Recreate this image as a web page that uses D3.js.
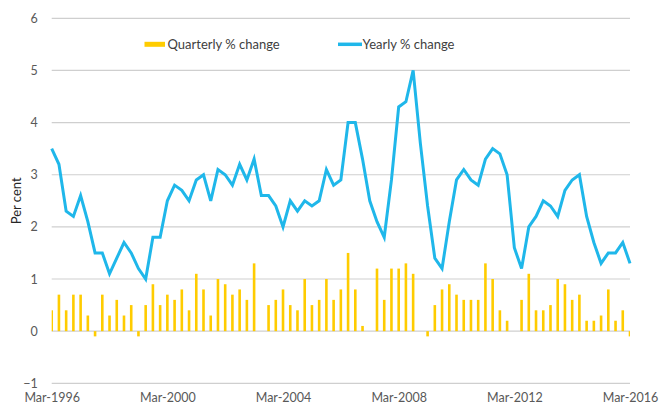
<!DOCTYPE html>
<html>
<head>
<meta charset="utf-8">
<script src="https://cdn.jsdelivr.net/npm/d3@7"></script>
<style>
  body { margin: 0; background: #fff; }
  text { font-family: Lato, "Open Sans", sans-serif; }
</style>
</head>
<body>
<div id="chart"></div>
<script>
var width = 662, height = 405;
var margin = {top: 18.3, right: 32, bottom: 21.7, left: 51.7};

// quarter labels, Mar-1996 .. Mar-2016
var months = ["Mar", "Jun", "Sep", "Dec"];
var quarters = [];
for (var yr = 1996; yr <= 2016; yr++) {
  months.forEach(function(m) { quarters.push(m + "-" + yr); });
}
quarters = quarters.slice(0, 81);

var xTickLabels = ["Mar-1996", "Mar-2000", "Mar-2004", "Mar-2008", "Mar-2012", "Mar-2016"];
var yTicks = [-1, 0, 1, 2, 3, 4, 5, 6];

var quarterly = [0.4, 0.7, 0.4, 0.7, 0.7, 0.3, -0.1, 0.7, 0.3, 0.6,
                 0.3, 0.5, -0.1, 0.5, 0.9, 0.5, 0.7, 0.6, 0.8, 0.4,
                 1.1, 0.8, 0.3, 1.0, 0.9, 0.7, 0.8, 0.6, 1.3, 0,
                 0.5, 0.6, 0.8, 0.5, 0.4, 1.0, 0.5, 0.6, 1.0, 0.6,
                 0.8, 1.5, 0.8, 0.1, 0, 1.2, 0.6, 1.2, 1.2, 1.3,
                 1.1, 0, -0.1, 0.5, 0.8, 0.9, 0.7, 0.6, 0.6, 0.6,
                 1.3, 1.0, 0.4, 0.2, 0, 0.6, 1.1, 0.4, 0.4, 0.5,
                 1.0, 0.9, 0.6, 0.7, 0.2, 0.2, 0.3, 0.8, 0.2, 0.4, -0.1];

var yearly = [3.5, 3.2, 2.3, 2.2, 2.6, 2.1, 1.5, 1.5, 1.1, 1.4,
              1.7, 1.5, 1.2, 1.0, 1.8, 1.8, 2.5, 2.8, 2.7, 2.5,
              2.9, 3.0, 2.5, 3.1, 3.0, 2.8, 3.2, 2.9, 3.3, 2.6,
              2.6, 2.4, 2.0, 2.5, 2.3, 2.5, 2.4, 2.5, 3.1, 2.8,
              2.9, 4.0, 4.0, 3.3, 2.5, 2.1, 1.8, 2.9, 4.3, 4.4,
              5.0, 3.6, 2.4, 1.4, 1.2, 2.1, 2.9, 3.1, 2.9, 2.8,
              3.3, 3.5, 3.4, 3.0, 1.6, 1.2, 2.0, 2.2, 2.5, 2.4,
              2.2, 2.7, 2.9, 3.0, 2.2, 1.7, 1.3, 1.5, 1.5, 1.7, 1.3];

var yellow = "#ffcc00", blue = "#1fb7ea";

var svg = d3.select("#chart").append("svg")
    .attr("width", width)
    .attr("height", height);

var x = d3.scalePoint()
    .domain(quarters)
    .range([margin.left, width - margin.right]);

var y = d3.scaleLinear()
    .domain([-1, 6])
    .range([height - margin.bottom, margin.top]);

// gridlines
svg.append("g")
  .selectAll("line")
  .data(yTicks)
  .enter().append("line")
    .attr("x1", margin.left)
    .attr("x2", width - margin.right)
    .attr("y1", function(d) { return y(d); })
    .attr("y2", function(d) { return y(d); })
    .style("stroke", "#cfcfcf")
    .style("stroke-width", 1.2);

// y axis
var yAxis = svg.append("g")
    .attr("transform", "translate(" + (margin.left - 14) + ",0)")
    .call(d3.axisLeft(y).tickValues(yTicks).tickSize(0).tickPadding(0).tickFormat(d3.format("d")));
yAxis.select(".domain").remove();
yAxis.selectAll("text")
    .style("font-size", "12.5px")
    .style("fill", "#595959");

// x axis, labels set on a fixed baseline
var xAxis = svg.append("g")
    .attr("transform", "translate(0,402)")
    .call(d3.axisBottom(x).tickValues(xTickLabels).tickSize(0).tickPadding(0));
xAxis.select(".domain").remove();
xAxis.selectAll("text")
    .attr("y", 0)
    .attr("dy", null)
    .style("font-size", "12.5px")
    .style("fill", "#595959");

// axis title
svg.append("text")
    .attr("transform", "translate(21," + y(2.5) + ") rotate(-90)")
    .attr("text-anchor", "middle")
    .style("font-size", "13px")
    .style("fill", "#262626")
    .text("Per cent");

// bars, clipped to the plot area
svg.append("clipPath")
    .attr("id", "plotclip")
  .append("rect")
    .attr("x", margin.left)
    .attr("y", 0)
    .attr("width", width - margin.left - margin.right)
    .attr("height", height);

var barW = 2.6;
svg.append("g")
    .attr("clip-path", "url(#plotclip)")
  .selectAll("rect")
  .data(quarterly)
  .enter().append("rect")
    .attr("x", function(d, i) { return x(quarters[i]) - barW / 2; })
    .attr("y", function(d) { return y(Math.max(0, d)); })
    .attr("width", barW)
    .attr("height", function(d) { return Math.abs(y(d) - y(0)); })
    .style("fill", yellow);

// yearly line
var line = d3.line()
    .x(function(d, i) { return x(quarters[i]); })
    .y(function(d) { return y(d); });

svg.append("path")
    .datum(yearly)
    .attr("d", line)
    .attr("fill", "none")
    .attr("stroke", blue)
    .attr("stroke-width", 3)
    .attr("stroke-linejoin", "miter");

// legend
var legend = svg.append("g");
legend.append("rect")
    .attr("x", 144.5)
    .attr("y", 41.8)
    .attr("width", 20.5)
    .attr("height", 5)
    .style("fill", yellow);
legend.append("text")
    .attr("x", 167.5)
    .attr("y", 48.5)
    .style("font-size", "13px")
    .style("fill", "#404040")
    .text("Quarterly % change");
legend.append("line")
    .attr("x1", 338)
    .attr("x2", 362)
    .attr("y1", 44.3)
    .attr("y2", 44.3)
    .attr("stroke", blue)
    .attr("stroke-width", 3.5);
legend.append("text")
    .attr("x", 362.5)
    .attr("y", 48.5)
    .style("font-size", "13px")
    .style("fill", "#404040")
    .text("Yearly % change");
</script>
</body>
</html>
